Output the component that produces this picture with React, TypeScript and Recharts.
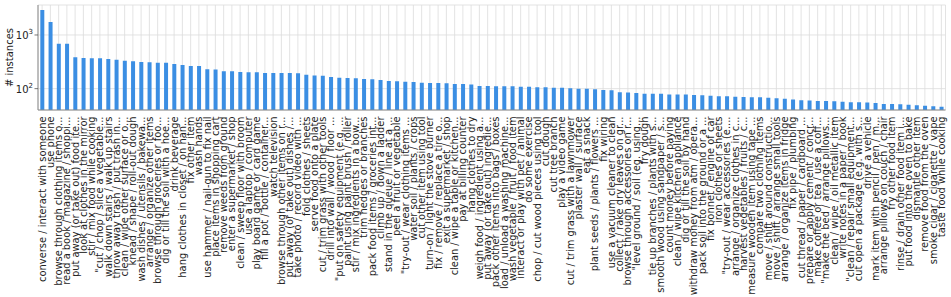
import React from 'react';
import { BarChart, Bar, XAxis, YAxis, CartesianGrid } from 'recharts';

const CATEGORIES = [
  'converse / interact with someone', 'use phone', 'browse through clothing items o...',
  'read a book / magazine / shoppi...', 'put away (or take out) food ite...', 'look at clothes in the mirror',
  'stir / mix food while cooking', '"cut / chop / slice a vegetable...', 'walk down stairs / walk up stairs',
  'throw away trash / put trash in...', 'clean / wipe other surface or o...', 'knead / shape / roll-out dough',
  'wash dishes / utensils / bakewa...', 'arrange / organize other items', 'browse through groceries or foo...',
  'dig or till the soil with a hoe...', 'drink beverage', 'hang clothes in closet / on han...',
  'fix other item', 'wash hands', 'use hammer / nail-gun to fix nail',
  'place items in shopping cart', 'remove weeds from ground', 'enter a supermarket / shop',
  'clean / sweep floor with broom', 'use a laptop / computer', 'play board game or card game',
  'fill a pot / bottle / container...', 'watch television', 'browse through other items on r...',
  'put away (or take out) dishes /...', 'take photo / record video with ...', 'fold clothes / sheets',
  'serve food onto a plate', 'cut / trim grass with other tools', 'drill into wall / wood / floor ...',
  '"put on safety equipment (e.g. ...', 'paint using paint brush / roller', 'stir / mix ingredients in a bow...',
  'trim hedges or branches', 'pack food items / groceries int...', 'climb up / down a ladder',
  'stand in the queue / line at a ...', 'peel a fruit or vegetable', '"try-out / wear clothing items ...',
  'water soil / plants / crops', 'cut other item using tool', 'turn-on / light the stove burner',
  'fix / remove / replace a tire o...', 'exit a supermarket / shop', 'clean / wipe a table or kitchen...',
  'pay at billing counter', 'hang clothes to dry', 'weigh food / ingredient using a...',
  'put away (or take out) ingredie...', 'pack other items into bags / boxes', 'load / unload a washing machine...',
  'wash vegetable / fruit / food item', 'interact or play with pet / animal', 'do some exercise',
  'chop / cut wood pieces using tool', 'cut dough', 'cut tree branch',
  'play a video game', 'cut / trim grass with a lawnmower', 'plaster wall / surface',
  'eat a snack', 'plant seeds / plants / flowers ...', 'fix wiring',
  'use a vacuum cleaner to clean', 'collect / rake dry leaves on gr...', 'browse through accessories on r...',
  '"level ground / soil (eg. using...', 'fry dough', 'tie up branches / plants with s...',
  'smooth wood using sandpaper / s...', 'count money before paying', 'clean / wipe kitchen appliance',
  'dig or till the soil by hand', 'withdraw money from atm / opera...', 'pack soil into the ground or a ...',
  'fix bonnet / engine of car', 'iron clothes or sheets', '"try-out / wear accessories (e....',
  'arrange / organize clothes in c...', 'harvest vegetables / fruits / c...', 'measure wooden item using tape ...',
  'compare two clothing items', 'move / shift around constructio...', 'move / shift / arrange small tools',
  'arrange / organize items in fridge', 'fix pipe / plumbing', 'cut thread / paper / cardboard ...',
  'prepare or apply cement / concr...', 'make coffee or tea / use a coff...', '"make the bed / arrange pillows...',
  'clean / wipe / oil metallic item', 'write notes in a paper / book', '"clean / repair small equipment...',
  'cut open a package (e.g. with s...', 'drive a vehicle', 'mark item with pencil / pen / m...',
  'arrange pillows on couch / chair', 'fry other food item', 'rinse / drain other food item i...',
  'put food into the oven to bake', 'dismantle other item', 'remove food from the oven',
  'smoke cigar / cigarette / vape', 'taste food while cooking',
];

const COUNTS = [
  2930, 1745, 689, 689, 385, 373, 368, 368, 357, 347,
  332, 324, 314, 310, 305, 303, 288, 276, 265, 263,
  230, 228, 211, 210, 205, 203, 201, 196, 196, 196,
  196, 194, 182, 175, 173, 165, 160, 158, 156, 151,
  149, 145, 139, 137, 135, 133, 129, 127, 127, 126,
  122, 122, 120, 112, 112, 111, 111, 111, 109, 109,
  106, 106, 104, 104, 102, 100, 100, 97, 94, 93,
  86, 85, 83, 80, 80, 80, 78, 78, 78, 76,
  75, 74, 72, 72, 71, 70, 69, 69, 68, 66,
  65, 63, 61, 60, 59, 59, 58, 57, 56, 56,
  55, 54, 52, 52, 51, 50, 49, 48, 47, 46,
];

const Y_TICKS = [100, 1000];

const data = CATEGORIES.map((name, i) => ({ name, count: COUNTS[i] }));

const FONT = '"DejaVu Sans", sans-serif';

function XTick({ x, y, payload }: any) {
  return (
    <text
      transform={`translate(${x},${y + 6.5}) rotate(-90)`}
      textAnchor="end"
      dominantBaseline="central"
      fontSize={9.9}
      fontFamily={FONT}
      fill="#222"
    >
      {payload.value}
    </text>
  );
}

function YTick({ x, y, payload }: any) {
  const exp = Math.round(Math.log10(payload.value));
  return (
    <g>
      <line x1={x - 3.5} x2={x} y1={y} y2={y} stroke="#555" strokeWidth={0.8} />
      <text x={x - 5} y={y + 4} textAnchor="end" fontSize={10} fontFamily={FONT} fill="#222">
        10<tspan dy={-5} fontSize={7}>{exp}</tspan>
      </text>
    </g>
  );
}

function YLabel() {
  return (
    <text
      transform="translate(13,57.5) rotate(-90)"
      textAnchor="middle"
      fontSize={10}
      fontFamily={FONT}
      fill="#222"
    >
      # instances
    </text>
  );
}

export default function App() {
  return (
    <div style={{ width: 951, height: 297 }}>
      <style>{'body{margin:0}'}</style>
      <BarChart
        width={951}
        height={297}
        data={data}
        margin={{ top: 5, right: 5.5, left: 0, bottom: 0 }}
        barCategoryGap="28%"
      >
        <CartesianGrid stroke="#dcdcdc" strokeWidth={0.8} />
        <XAxis
          dataKey="name"
          interval={0}
          height={187}
          tick={<XTick />}
          tickLine={false}
          tickSize={0}
          tickMargin={0}
          axisLine={{ stroke: '#8a8a8a' }}
        />
        <XAxis xAxisId="top" orientation="top" dataKey="name" height={0} tick={false} tickLine={false} axisLine={{ stroke: '#8a8a8a' }} />
        <YAxis
          scale="log"
          domain={[40, 3620]}
          allowDataOverflow
          ticks={Y_TICKS}
          width={38}
          tick={<YTick />}
          tickLine={false}
          tickSize={0}
          tickMargin={0}
          axisLine={{ stroke: '#8a8a8a' }}
          label={{ content: <YLabel /> }}
        />
        <YAxis yAxisId="right" orientation="right" width={0} tick={false} tickLine={false} axisLine={{ stroke: '#8a8a8a' }} />
        <Bar dataKey="count" fill="#3b8ee3" isAnimationActive={false} />
      </BarChart>
    </div>
  );
}
